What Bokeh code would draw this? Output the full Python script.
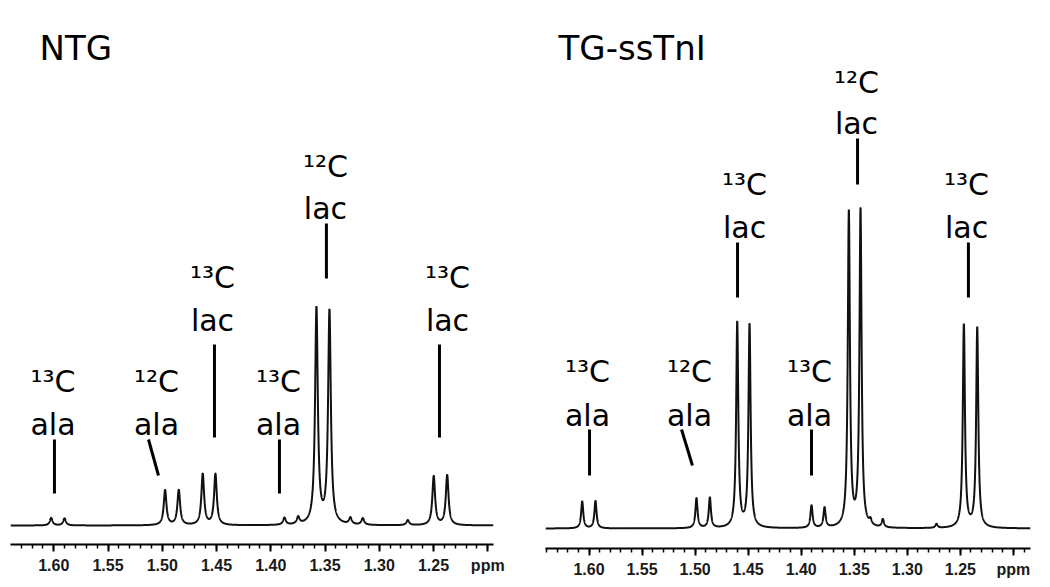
import numpy as np
from bokeh.plotting import figure
from bokeh.layouts import row
from bokeh.models import Range1d, FixedTicker, NumeralTickFormatter
from bokeh.core.properties import value
from bokeh.embed import file_html
from bokeh.resources import INLINE

# ---------------- data ----------------
# peak tables: chemical shift (ppm) and peak height (arbitrary intensity units)
ntg_peak_ppm = [1.6024, 1.5901, 1.4974, 1.4848, 1.4627, 1.4510, 1.3874, 1.3747,
                1.3579, 1.3459, 1.3266, 1.3152, 1.2737, 1.2498, 1.2374]
ntg_peak_height = [7.5, 7.0, 35.0, 35.0, 51.0, 51.0, 7.0, 7.0,
                   216.0, 213.0, 6.5, 6.5, 5.0, 49.0, 50.0]
ntg_half_width = 0.0015   # ppm, half width at half height

tg_peak_ppm = [1.6064, 1.5939, 1.4987, 1.4861, 1.4603, 1.4487, 1.3903, 1.3780,
               1.3551, 1.3441, 1.3347, 1.3231, 1.2725, 1.2467, 1.2341]
tg_peak_height = [27.0, 27.5, 30.0, 30.5, 205.0, 203.0, 22.5, 20.0,
                  315.0, 317.0, 5.0, 8.0, 4.0, 203.0, 200.0]
tg_half_width = 0.0012

panel_titles = ["NTG", "TG-ssTnI"]

# peak assignment labels
label_isotope = ["¹³C", "¹²C", "¹³C", "¹³C", "¹²C", "¹³C"]
label_name = ["ala", "ala", "lac", "ala", "lac", "lac"]

# tick labels
major_ticks = [1.60, 1.55, 1.50, 1.45, 1.40, 1.35, 1.30, 1.25, 1.20]
minor_ticks = [round(1.19 + 0.01 * i, 2) for i in range(46)]
tick_label_overrides = {1.2: "ppm"}

# ---------------- layout of annotations (ppm, intensity) ----------------
ntg_text_x = [1.6007, 1.5053, 1.4537, 1.3929, 1.3496, 1.2371]
ntg_iso_y = [144, 144, 248, 144, 359, 248]
ntg_name_y = [101, 101, 205, 101, 317, 205]
ntg_line_x0 = [1.5994, 1.5127, 1.4519, 1.3920, 1.3487, 1.2445]
ntg_line_x1 = [1.5994, 1.5035, 1.4519, 1.3920, 1.3487, 1.2445]
ntg_line_y0 = [86, 86, 181, 86, 302, 181]
ntg_line_y1 = [32, 50, 88, 32, 247, 88]

tg_text_x = [1.6014, 1.5053, 1.4534, 1.3922, 1.3479, 1.2442]
tg_iso_y = [157, 157, 344, 157, 446, 344]
tg_name_y = [113, 113, 301, 113, 405, 301]
tg_line_x0 = [1.5995, 1.5128, 1.4600, 1.3903, 1.3469, 1.2424]
tg_line_x1 = [1.5995, 1.5025, 1.4600, 1.3903, 1.3469, 1.2424]
tg_line_y0 = [99, 99, 286, 99, 390, 286]
tg_line_y1 = [53, 63, 231, 53, 344, 231]

LABEL_FONT = value("DejaVu Sans")


def spectrum(x, ppm, height, hw):
    x = np.asarray(x)[:, None]
    c = np.asarray(ppm)[None, :]
    h = np.asarray(height)[None, :]
    return (h * hw**2 / ((x - c) ** 2 + hw**2)).sum(axis=1)


def make_panel(title, title_x, title_y, xr, yr, fw, fh, borders,
               ppm, height, hw, text_x, iso_y, name_y, lx0, lx1, ly0, ly1):
    p = figure(frame_width=fw, frame_height=fh,
               x_range=Range1d(*xr), y_range=Range1d(*yr),
               output_backend="svg", toolbar_location=None,
               y_axis_location=None, x_axis_location="below",
               min_border_left=borders[0], min_border_right=borders[1],
               min_border_top=borders[2], min_border_bottom=borders[3],
               outline_line_color=None, background_fill_color="white",
               border_fill_color="white")
    p.grid.visible = False

    xs = np.linspace(min(xr), max(xr), 6000)
    p.line(xs, spectrum(xs, ppm, height, hw), line_color="#111111", line_width=2.0)

    p.segment(x0=lx0, y0=ly0, x1=lx1, y1=ly1, line_color="black", line_width=3)
    p.text(x=text_x, y=iso_y, text=label_isotope, text_font=LABEL_FONT,
           text_font_size="30px", text_align="center", text_baseline="alphabetic",
           text_color="black")
    p.text(x=text_x, y=name_y, text=label_name, text_font=LABEL_FONT,
           text_font_size="30px", text_align="center", text_baseline="alphabetic",
           text_color="black")
    p.text(x=[title_x], y=[title_y], text=[title], text_font=LABEL_FONT,
           text_font_size="34px", text_align="left", text_baseline="alphabetic",
           text_color="black")

    ax = p.xaxis[0]
    ax.ticker = FixedTicker(ticks=major_ticks, minor_ticks=minor_ticks)
    ax.formatter = NumeralTickFormatter(format="0.00")
    ax.major_label_overrides = tick_label_overrides
    ax.axis_line_width = 2
    ax.axis_line_color = "black"
    ax.major_tick_in = 0
    ax.major_tick_out = 7
    ax.minor_tick_in = 0
    ax.minor_tick_out = 4
    ax.major_tick_line_width = 2
    ax.minor_tick_line_width = 1.5
    ax.major_label_text_font = "Liberation Sans"
    ax.major_label_text_font_style = "bold"
    ax.major_label_text_font_size = "16px"
    ax.major_label_text_color = "#1a1a1a"
    ax.major_label_standoff = 5
    return p


p1 = make_panel(panel_titles[0], 1.6132, 478, (1.6399, 1.1947), (-19, 517),
                483, 536, (10, 26, 8, 35),
                ntg_peak_ppm, ntg_peak_height, ntg_half_width,
                ntg_text_x, ntg_iso_y, ntg_name_y,
                ntg_line_x0, ntg_line_x1, ntg_line_y0, ntg_line_y1)
p2 = make_panel(panel_titles[1], 1.6287, 481, (1.6410, 1.1839), (-20, 520),
                485, 540, (26, 5, 8, 31),
                tg_peak_ppm, tg_peak_height, tg_half_width,
                tg_text_x, tg_iso_y, tg_name_y,
                tg_line_x0, tg_line_x1, tg_line_y0, tg_line_y1)

layout = row(p1, p2)
open("out.html", "w").write(file_html(layout, INLINE))
